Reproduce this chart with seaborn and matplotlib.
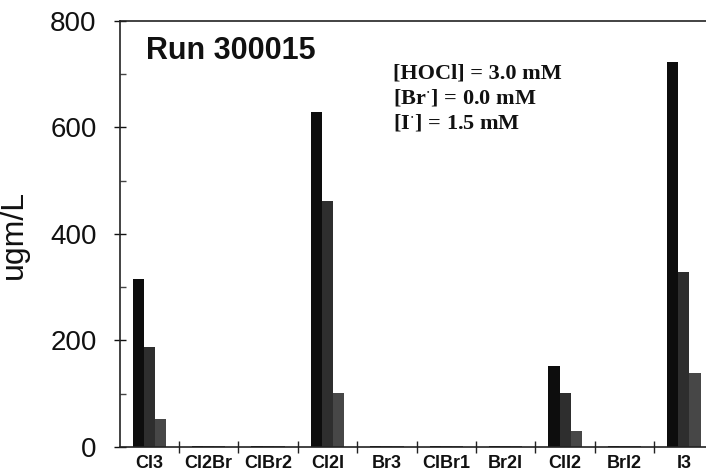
import matplotlib
matplotlib.use("Agg")
import matplotlib.pyplot as plt
from matplotlib.ticker import MultipleLocator, FixedLocator
import seaborn as sns
import pandas as pd

categories = ["Cl3", "Cl2Br", "ClBr2", "Cl2I", "Br3", "ClBr1", "Br2I", "ClI2", "BrI2", "I3"]
series_names = ["A", "B", "C"]
series_a = [315, 2, 2, 630, 2, 2, 2, 153, 2, 723]
series_b = [188, 1, 1, 462, 1, 1, 1, 101, 1, 329]
series_c = [53, 1, 1, 102, 1, 1, 1, 30, 1, 139]
y_ticks = [0, 200, 400, 600, 800]
colors = ["#0d0d0d", "#2e2e2e", "#474747"]

rows = []
for name, vals in zip(series_names, [series_a, series_b, series_c]):
    for cat, v in zip(categories, vals):
        rows.append({"cat": cat, "series": name, "value": v})
df = pd.DataFrame(rows)

sns.set_style("ticks")
plt.rcParams["font.family"] = ["Liberation Sans", "DejaVu Sans"]
plt.rcParams["mathtext.fontset"] = "stix"

fig = plt.figure(figsize=(7.06, 4.73), dpi=100)
ax = fig.add_axes([0.1694, 0.055, 0.8414, 0.9006])

sns.barplot(data=df, x="cat", y="value", hue="series", order=categories,
            hue_order=series_names, palette=colors, width=0.56, saturation=1,
            edgecolor="none", linewidth=0, legend=False, ax=ax)

ax.set_xlim(-0.5, len(categories) - 0.5)
ax.set_ylim(0, 800)
ax.set_yticks(y_ticks)
ax.set_yticklabels([str(t) for t in y_ticks], fontsize=20)
ax.yaxis.set_minor_locator(MultipleLocator(100))
ax.tick_params(axis="y", which="major", direction="inout", length=9, width=1, pad=12, colors="#111111")
ax.tick_params(axis="y", which="minor", direction="in", length=4, width=1, colors="#444444")

ax.xaxis.set_minor_locator(FixedLocator([i + 0.5 for i in range(len(categories) - 1)]))
ax.tick_params(axis="x", which="major", length=0, pad=6)
ax.tick_params(axis="x", which="minor", direction="inout", length=9, width=1, colors="#222222")
for lab in ax.get_xticklabels():
    lab.set_fontsize(13)
    lab.set_fontweight("bold")
    lab.set_family(["Liberation Sans Narrow", "Liberation Sans", "DejaVu Sans"])
    lab.set_color("#111111")

ax.set_xlabel("")
ax.set_ylabel("ugm/L", fontsize=23, color="#111111")
ax.yaxis.set_label_coords(-0.1525, 0.5)

for side in ["left", "bottom", "top"]:
    ax.spines[side].set_visible(True)
    ax.spines[side].set_color("#222222")
    ax.spines[side].set_linewidth(1.2)
ax.spines["right"].set_visible(False)

ax.text(0.044, 0.93, "Run 300015", transform=ax.transAxes, fontsize=22,
        fontweight="bold", ha="left", va="center", color="#111111")
ax.text(0.46, 0.90, "[HOCl] = 3.0 mM\n[Br$^{\\cdot}$] = 0.0 mM\n[I$^{\\cdot}$] = 1.5 mM",
        transform=ax.transAxes, fontsize=16, fontweight="bold", ha="left", va="top",
        family=["Liberation Serif", "DejaVu Serif"], linespacing=1.25, color="#111111")

fig.savefig("out.png", dpi=100)
